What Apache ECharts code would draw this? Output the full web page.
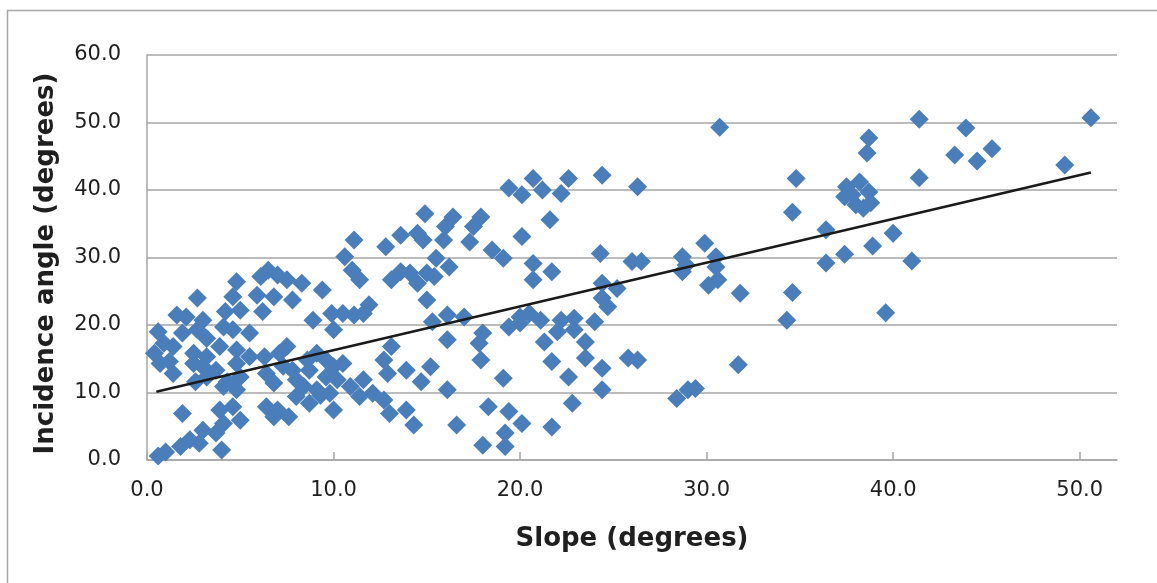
<!DOCTYPE html>
<html>
<head>
<meta charset="utf-8">
<script src="https://cdn.jsdelivr.net/npm/echarts@6/dist/echarts.min.js"></script>
<style>
  html, body { margin: 0; padding: 0; background: #ffffff; }
  #chart { width: 1157px; height: 583px; }
</style>
</head>
<body>
<div id="chart"></div>
<script>
// Slope (degrees) of each sample
const slope = [
  6.5, 6.1, 7.0, 7.5, 8.3, 9.4, 4.8, 2.7, 4.6, 5.9, 6.8, 7.8, 9.9, 8.9, 1.6, 2.1, 3.0, 4.2, 5.0, 6.2,
  0.6, 0.9, 0.4, 1.4, 1.9, 2.7, 3.2, 4.1, 4.6, 5.5, 3.9, 4.8, 2.5, 1.2, 1.4, 0.7, 2.5, 3.2, 2.6, 7.5,
  6.3, 7.1, 5.5, 4.8, 3.7, 4.3, 5.0, 4.8, 4.1, 6.8, 6.4, 7.8, 8.6, 9.1, 9.6, 8.4, 9.1, 8.0, 8.7, 10.0,
  9.6, 10.0, 10.0, 1.9, 3.9, 4.6, 5.0, 4.1, 3.7, 3.0, 2.3, 1.8, 2.8, 4.0, 0.6, 1.0, 6.4, 7.0, 7.6, 6.8,
  8.0, 8.7, 7.3, 9.3, 3.2, 3.0,
  14.9, 16.4, 17.9, 17.5, 16.0, 11.1, 12.8, 13.6, 14.5, 14.8, 15.9, 17.3, 18.5, 19.1, 19.4, 20.1, 20.1, 10.6, 11.0, 11.4,
  13.1, 13.6, 14.1, 14.5, 15.0, 15.4, 15.5, 16.2, 15.0, 10.5, 11.1, 11.6, 11.9, 15.3, 16.1, 17.0, 16.1, 18.0, 17.8, 17.9,
  19.4, 20.0, 19.1, 13.1, 12.7, 12.9, 13.9, 15.2, 14.7, 16.1, 10.5, 10.2, 10.9, 11.6, 12.1, 11.4, 12.7, 13.0, 13.9, 14.3,
  9.8, 16.6, 18.3, 19.4, 20.1, 19.2, 18.0, 19.2,
  20.7, 21.2, 22.6, 22.2, 24.4, 26.3, 21.6, 20.7, 20.7, 21.7, 24.3, 26.0, 26.5, 28.7, 28.9, 28.7, 29.9, 30.5, 30.1, 30.6,
  24.4, 25.2, 24.4, 24.7, 20.5, 21.1, 20.0, 22.2, 22.9, 22.0, 22.9, 24.0, 23.5, 21.3, 21.7, 23.5, 24.4, 22.6, 25.8, 26.3,
  24.4, 22.8, 21.7, 28.4, 29.0, 29.4, 30.7, 31.8, 31.7, 30.5,
  34.3, 34.6, 34.8, 34.6, 36.4, 36.4, 37.4, 38.9, 40.0, 41.0, 39.6, 37.5, 37.4, 38.2, 38.7, 38.0, 38.8, 38.4, 37.8, 38.7,
  38.6, 41.4, 41.4, 43.9, 43.3, 44.5, 45.3, 49.2, 50.6
];

// Incidence angle (degrees) of each sample
const incidence = [
  28.1, 27.2, 27.4, 26.7, 26.2, 25.2, 26.4, 24.0, 24.2, 24.4, 24.2, 23.7, 21.7, 20.7, 21.5, 21.2, 20.7, 22.0, 22.2, 22.0,
  19.0, 17.3, 15.8, 16.8, 18.8, 19.3, 18.0, 19.7, 19.3, 18.8, 16.8, 16.3, 15.8, 14.6, 12.8, 14.3, 14.3, 15.3, 11.6, 16.8,
  15.3, 15.8, 15.3, 14.3, 13.3, 11.6, 12.3, 10.4, 10.9, 11.4, 12.8, 13.3, 14.8, 15.8, 14.8, 10.9, 10.4, 9.4, 8.4, 7.4,
  12.3, 13.8, 19.3, 6.9, 7.4, 7.9, 5.9, 5.4, 4.0, 4.4, 3.0, 2.0, 2.5, 1.5, 0.6, 1.2, 7.9, 7.4, 6.4, 6.4,
  11.9, 13.3, 13.9, 9.6, 12.3, 13.8,
  36.5, 36.0, 36.0, 34.6, 34.6, 32.6, 31.6, 33.3, 33.6, 32.6, 32.6, 32.3, 31.1, 29.9, 40.3, 39.3, 33.1, 30.1, 28.1, 26.7,
  26.7, 27.9, 27.7, 26.2, 27.7, 27.2, 29.9, 28.6, 23.7, 21.7, 21.5, 21.7, 23.0, 20.5, 21.5, 21.2, 17.8, 18.8, 17.3, 14.8,
  19.7, 21.2, 12.1, 16.8, 14.8, 12.8, 13.3, 13.8, 11.6, 10.4, 14.3, 11.9, 10.9, 11.9, 9.9, 9.4, 8.9, 6.9, 7.4, 5.2,
  9.9, 5.2, 7.9, 7.2, 5.4, 4.0, 2.2, 2.0,
  41.7, 40.0, 41.7, 39.5, 42.2, 40.5, 35.6, 29.1, 26.7, 27.9, 30.6, 29.4, 29.4, 30.1, 28.9, 27.9, 32.1, 30.1, 25.9, 26.7,
  26.2, 25.4, 24.0, 22.7, 21.7, 20.7, 20.3, 20.7, 21.0, 19.0, 19.3, 20.5, 17.5, 17.5, 14.6, 15.1, 13.6, 12.3, 15.1, 14.8,
  10.4, 8.4, 4.9, 9.1, 10.4, 10.6, 49.3, 24.7, 14.1, 28.6,
  20.7, 24.8, 41.7, 36.7, 34.1, 29.2, 30.5, 31.7, 33.6, 29.5, 21.8, 40.5, 39.0, 41.2, 39.7, 37.8, 38.1, 37.3, 39.3, 47.7,
  45.5, 50.5, 41.8, 49.2, 45.2, 44.3, 46.1, 43.7, 50.7
];

// Linear trend line: end points (slope, incidence angle)
const trendSlope = [0.5, 50.6];
const trendIncidence = [10.1, 42.6];

// Axis tick values
const xTicks = [0, 10, 20, 30, 40, 50];
const yTicks = [0, 10, 20, 30, 40, 50, 60];

const points = slope.map((s, i) => [s, incidence[i]]);
const trend = trendSlope.map((s, i) => [s, trendIncidence[i]]);

const axisGray = '#a6a6a6';
const textColor = '#1f1f1f';

const chart = echarts.init(document.getElementById('chart'), null, { renderer: 'canvas' });
chart.setOption({
  animation: false,
  backgroundColor: '#ffffff',
  graphic: [{
    type: 'rect',
    shape: { x: 7.5, y: 10.5, width: 1300, height: 700 },
    style: { fill: 'none', stroke: axisGray, lineWidth: 1.5 },
    silent: true
  }],
  grid: { left: 147, right: 40, top: 55, bottom: 123, containLabel: false },
  xAxis: {
    type: 'value',
    min: 0,
    max: 52,
    interval: 10,
    name: 'Slope (degrees)',
    nameLocation: 'middle',
    nameGap: 66,
    nameTextStyle: { fontFamily: 'DejaVu Sans', fontWeight: 'bold', fontSize: 26, color: textColor },
    axisLine: { show: true, onZero: false, lineStyle: { color: axisGray, width: 1.5 } },
    axisTick: { show: true, inside: true, length: 8, customValues: xTicks, lineStyle: { color: axisGray, width: 1.5 } },
    axisLabel: {
      customValues: xTicks,
      margin: 20,
      fontFamily: 'DejaVu Sans',
      fontSize: 21,
      color: textColor,
      formatter: v => v.toFixed(1)
    },
    splitLine: { show: false }
  },
  yAxis: {
    type: 'value',
    min: 0,
    max: 60,
    interval: 10,
    name: 'Incidence angle (degrees)',
    nameLocation: 'middle',
    nameGap: 88,
    nameTextStyle: {
      fontFamily: 'DejaVu Sans', fontWeight: 'bold', fontSize: 26, color: textColor,
      padding: [0, 12, 0, 0]
    },
    axisLine: { show: true, lineStyle: { color: axisGray, width: 1.5 } },
    axisTick: { show: false },
    axisLabel: {
      customValues: yTicks,
      margin: 26,
      fontFamily: 'DejaVu Sans',
      fontSize: 21,
      color: textColor,
      formatter: v => v.toFixed(1)
    },
    splitLine: { show: true, lineStyle: { color: axisGray, width: 1.5 } }
  },
  series: [
    {
      name: 'Samples',
      type: 'scatter',
      data: points,
      symbol: 'diamond',
      symbolSize: 19,
      itemStyle: { color: '#4a7ebb', opacity: 1 },
      z: 2
    },
    {
      name: 'Trend',
      type: 'line',
      data: trend,
      showSymbol: false,
      symbol: 'none',
      lineStyle: { color: '#1a1a1a', width: 2.5 },
      z: 3
    }
  ]
});
</script>
</body>
</html>
